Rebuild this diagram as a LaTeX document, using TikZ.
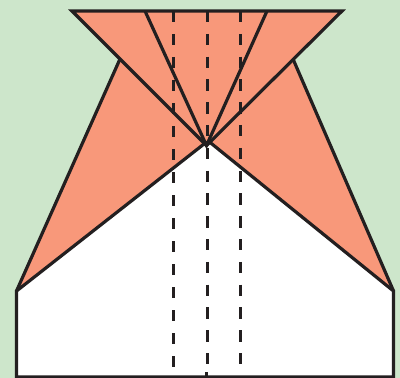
\documentclass[tikz,border=0pt]{standalone}
\definecolor{bgc}{HTML}{CDE6CB}
\definecolor{flap}{HTML}{F8987A}
\definecolor{ink}{HTML}{231F20}
\tikzset{edge/.style={draw=ink,line width=2.4pt,line join=miter},
 crease/.style={draw=ink,line width=2.3pt}}
\begin{document}
\begin{tikzpicture}[x=0.75pt,y=-0.75pt]
\useasboundingbox (0,0) rectangle (400,378);
\fill[bgc] (0,0) rectangle (400,378);
\coordinate (tl) at (72,11);
\coordinate (tr) at (342,11);
\coordinate (fl) at (145,11);
\coordinate (fr) at (267,11);
\coordinate (apex) at (206.5,145.5);
\coordinate (rl) at (204,144);
\coordinate (rr) at (209.5,142);
\coordinate (jl) at (120,59);
\coordinate (jr) at (293,59);
\coordinate (l) at (16.5,291);
\coordinate (r) at (393.5,291);
\coordinate (bl) at (16.5,377);
\coordinate (br) at (393.5,377);
\fill[flap] (tl) -- (tr) -- (jr) -- (r) -- (apex) -- (l) -- (jl) -- cycle;
\fill[white] (l) -- (rl) -- (apex) -- (rr) -- (r) -- (br) -- (bl) -- cycle;
\draw[edge] (jl) -- (l);
\draw[edge] (jr) -- (r);
\draw[edge] (rl) -- (l) -- (bl) -- (br) -- (r) -- (rr);
\draw[edge] (apex) -- (tl) -- (tr) -- cycle;
\draw[edge] (fl) -- (apex) -- (fr);
\draw[crease,dash pattern=on 8.6pt off 8.65pt] (173.5,11) -- (173.5,368);
\draw[crease,dash pattern=on 8.6pt off 8.5pt] (207.5,11) -- (207.5,366);
\draw[crease] (206.5,372) -- (206.5,377);
\draw[crease,dash pattern=on 8.6pt off 8.5pt] (240.5,11) -- (240.5,366);
\end{tikzpicture}
\end{document}
